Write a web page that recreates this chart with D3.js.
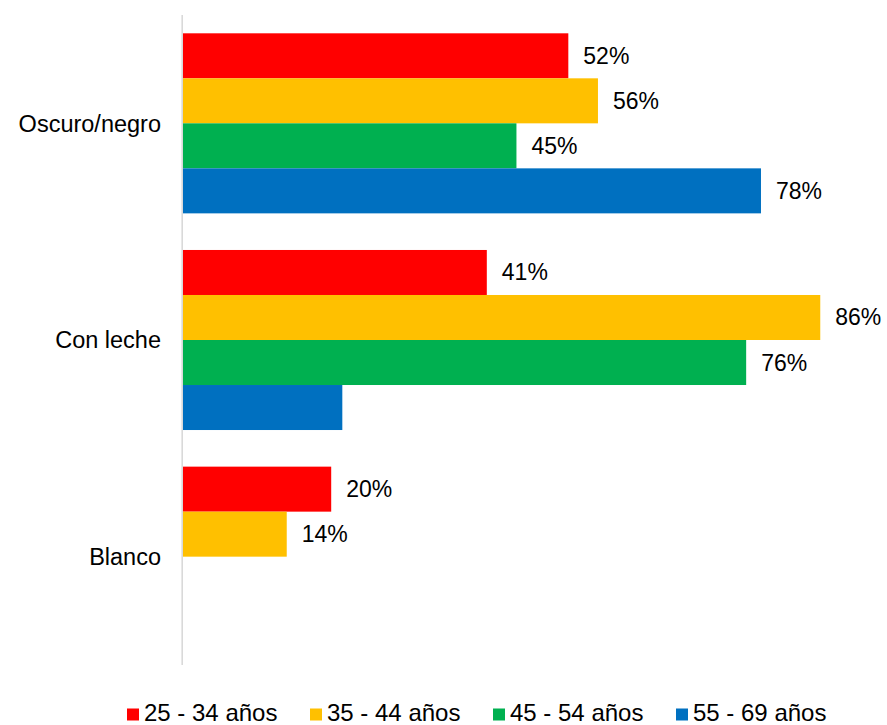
<!DOCTYPE html>
<html>
<head>
<meta charset="utf-8">
<script src="https://cdn.jsdelivr.net/npm/d3@7"></script>
<style>
  html, body { margin: 0; padding: 0; background: #fff; }
  svg { display: block; font-family: "Liberation Sans", Arial, sans-serif; }
</style>
</head>
<body>
<svg id="chart" width="887" height="725"></svg>
<script>
// Tipos de chocolate preferidos por grupo de edad (%)
const categories = ["Oscuro/negro", "Con leche", "Blanco"];
const seriesNames = ["25 - 34 años", "35 - 44 años", "45 - 54 años", "55 - 69 años"];
const seriesColors = ["#FF0000", "#FFC000", "#00B050", "#0070C0"];
const values2534 = [52, 41, 20];
const values3544 = [56, 86, 14];
const values4554 = [45, 76, null];
const values5569 = [78, 21.5, null];
// Which values carry a printed label
const showLabel5569 = [true, false, false];

const seriesValues = [values2534, values3544, values4554, values5569];
const seriesLabelFlags = [
  [true, true, true],
  [true, true, true],
  [true, true, true],
  showLabel5569
];

const svg = d3.select("#chart");

const plot = { left: 183, top: 15, bottom: 665, pxPerUnit: 7.41 };

const x = d3.scaleLinear()
  .domain([0, 100])
  .range([plot.left, plot.left + 100 * plot.pxPerUnit]);

const y = d3.scaleBand()
  .domain(categories)
  .range([plot.top, plot.bottom])
  .paddingInner(0.169)
  .paddingOuter(0.0845);

const ySub = d3.scaleBand()
  .domain(d3.range(seriesNames.length))
  .range([0, y.bandwidth()])
  .padding(0);

// Bars and value labels
const rows = [];
seriesValues.forEach((vals, si) => {
  vals.forEach((v, ci) => {
    if (v !== null) rows.push({ si, cat: categories[ci], v, label: seriesLabelFlags[si][ci] });
  });
});

svg.append("g").selectAll("rect")
  .data(rows)
  .join("rect")
  .attr("x", x(0))
  .attr("y", d => y(d.cat) + ySub(d.si))
  .attr("width", d => x(d.v) - x(0))
  .attr("height", ySub.bandwidth())
  .attr("fill", d => seriesColors[d.si]);

svg.append("g").selectAll("text")
  .data(rows.filter(d => d.label))
  .join("text")
  .attr("x", d => x(d.v) + 15)
  .attr("y", d => y(d.cat) + ySub(d.si) + ySub.bandwidth() / 2 + 8)
  .attr("font-size", 23)
  .attr("fill", "#000")
  .text(d => d.v + "%");

// Category axis
const yAxis = d3.axisLeft(y).tickSize(0).tickPadding(22);
const gAxis = svg.append("g")
  .attr("transform", `translate(${plot.left},0)`)
  .call(yAxis);
gAxis.select(".domain")
  .attr("stroke", "#D9D9D9")
  .attr("stroke-width", 1.6)
  .attr("d", `M-0.8,${plot.top}V${plot.bottom}`);
gAxis.selectAll(".tick text")
  .attr("font-size", 23.5)
  .attr("font-family", "'Liberation Sans', Arial, sans-serif")
  .attr("fill", "#000")
  .attr("dy", "0.35em");

// Legend
const legendX = d3.scaleLinear().domain([0, 1]).range([127, 310]);
const legend = svg.append("g").selectAll("g")
  .data(seriesNames)
  .join("g")
  .attr("transform", (d, i) => `translate(${legendX(i)},0)`);
legend.append("rect")
  .attr("x", 0).attr("y", 708.5)
  .attr("width", 12).attr("height", 12)
  .attr("fill", (d, i) => seriesColors[i]);
legend.append("text")
  .attr("x", 17).attr("y", 720.5)
  .attr("font-size", 24)
  .attr("fill", "#000")
  .text(d => d);
</script>
</body>
</html>
